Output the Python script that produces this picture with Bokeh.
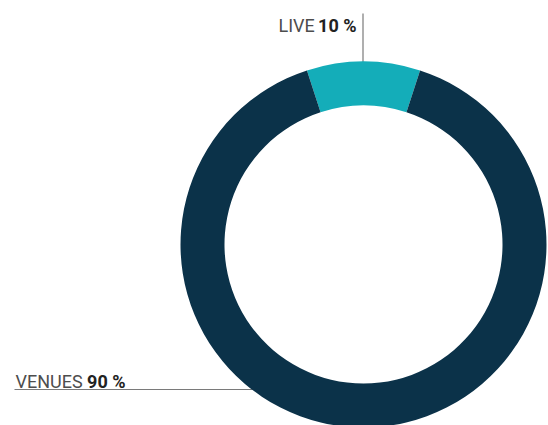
import math
from bokeh.plotting import figure
from bokeh.models import Range1d, ColumnDataSource
from bokeh.core.properties import value
from bokeh.embed import file_html
from bokeh.resources import INLINE

# data
categories = ["LIVE", "VENUES"]
shares = [10, 90]
pct_labels = ["10 %", "90 %"]
colors = ["#14adb9", "#0b3249"]

# layout (page pixel coords)
W, H = 548, 425
OX, OY = 0, 0
def px(x):
    return x
def py(y):
    return (OY + H) - y

CX, CY = 363, 244
R_OUT, R_IN = 183, 139

p = figure(width=W, height=H, output_backend="svg", toolbar_location=None,
           x_range=Range1d(OX, OX + W), y_range=Range1d(0, H),
           min_border=0)
p.axis.visible = False
p.grid.visible = False
p.outline_line_color = None
p.background_fill_color = "white"
p.border_fill_color = "white"

# wedge angles: first slice centred at top
total = sum(shares)
start = math.pi / 2 - (shares[0] / total) * math.pi
starts, ends = [], []
a = start
for s in shares:
    e = a + s / total * 2 * math.pi
    starts.append(a)
    ends.append(e)
    a = e

# leader lines (drawn under ring)
p.line([px(14), px(258)], [py(389), py(389)], line_color="#7a7a7a", line_width=1.2)
p.line([px(362.5), px(362.5)], [py(13), py(64)], line_color="#7a7a7a", line_width=1.2)

src = ColumnDataSource(dict(x=[CX] * len(shares), y=[py(CY)] * len(shares),
                            start=starts, end=ends, color=colors))
p.annular_wedge(x="x", y="y", inner_radius=R_IN, outer_radius=R_OUT,
                start_angle="start", end_angle="end", fill_color="color",
                line_color=None, source=src)

FS = "18px"
FONT = value("Roboto")
# LIVE label
p.text(x=[px(278)], y=[py(25)], text=[categories[0]], text_font=FONT,
       text_font_size=FS, text_color="#4d4d4d", text_baseline="alphabetic",
       text_align="left")
p.text(x=[px(356)], y=[py(25)], text=[pct_labels[0]], text_font=FONT,
       text_font_size=FS, text_font_style="bold", text_color="#222222",
       text_baseline="alphabetic", text_align="right")
# VENUES label
p.text(x=[px(15)], y=[py(381)], text=[categories[1]], text_font=FONT,
       text_font_size=FS, text_color="#4d4d4d", text_baseline="alphabetic",
       text_align="left")
p.text(x=[px(125)], y=[py(381)], text=[pct_labels[1]], text_font=FONT,
       text_font_size=FS, text_font_style="bold", text_color="#222222",
       text_baseline="alphabetic", text_align="right")

open("out.html", "w").write(file_html(p, INLINE))
